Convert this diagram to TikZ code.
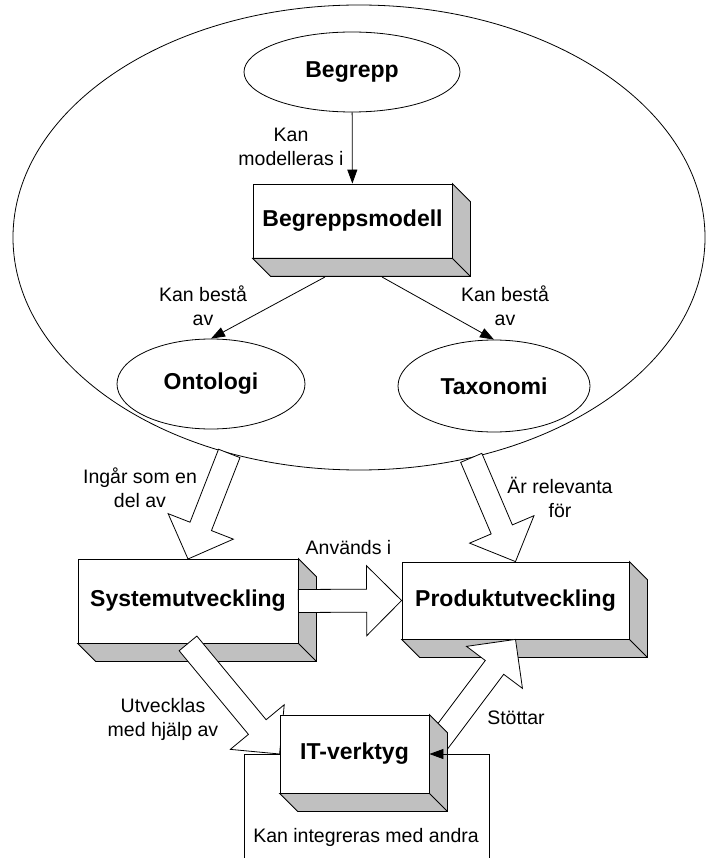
\documentclass[tikz,border=0pt]{standalone}
\usepackage{fontspec}
\setmainfont{Liberation Sans}
\usetikzlibrary{calc,arrows.meta,shapes.geometric}
\definecolor{shadegray}{HTML}{C0C0C0}
\pgfdeclarelayer{front}
\pgfsetlayers{main,front}

\tikzset{
  line/.style={line width=0.8pt},
  oval/.style={ellipse, draw, line width=0.8pt, fill=white, inner sep=0pt,
    font=\fontsize{23}{27}\selectfont\bfseries},
  slab/.style={rectangle, draw, line width=0.8pt, fill=white, inner sep=0pt,
    font=\fontsize{23}{27}\selectfont\bfseries},
  lbl/.style={align=center, inner sep=0pt, font=\fontsize{19.5}{24}\selectfont},
  flow/.style={line width=0.8pt, -{Triangle[length=14pt,width=10pt]}},
  hollow/.style={draw, line width=0.8pt, fill=white, line join=miter},
}

% grey depth faces (right side and bottom) of a raised box
\newcommand{\slabdepth}[1]{%
  \filldraw[line width=0.8pt, fill=shadegray, line join=miter]
    (#1.north east) -- ++(18,18) -- ($(#1.south east)+(18,18)$)
    -- ($(#1.south west)+(18,18)$) -- (#1.south west) -- (#1.south east) -- cycle;
  \draw[line] (#1.south east) -- ++(18,18);}

% outlined block arrow from #1 to the tip #2
\newcommand{\hollowarrow}[2]{%
  \coordinate (ha-h) at ($(#2)!35pt!(#1)$);
  \filldraw[hollow] ($(#1)!11.5pt!90:(#2)$) -- ($(ha-h)!11.5pt!90:(#2)$)
    -- ($(ha-h)!35pt!90:(#2)$) -- (#2) -- ($(ha-h)!35pt!-90:(#2)$)
    -- ($(ha-h)!11.5pt!-90:(#2)$) -- ($(#1)!11.5pt!-90:(#2)$) -- cycle;}

\begin{document}
\begin{tikzpicture}[x=1pt,y=-1pt]
\useasboundingbox (0,0) rectangle (707,858);

% concept area
\node[ellipse, draw, line width=0.8pt, inner sep=0pt,
      minimum width=692pt, minimum height=465pt] (domain) at (359,237.5) {};

\node[oval, minimum width=216pt, minimum height=80pt] (begrepp) at (352,72) {Begrepp};
\node[slab, minimum width=199pt, minimum height=74pt] (bmodell) at (352.5,221) {Begreppsmodell};
\slabdepth{bmodell}
\node[oval, minimum width=188pt, minimum height=90pt] (onto) at (211,384) {Ontologi};
\node[oval, minimum width=192pt, minimum height=92pt] (taxo) at (494,386) {Taxonomi};

\draw[flow] (begrepp) -- (bmodell);
\node[lbl] (l-mod) at (291,147) {Kan\\modelleras i};

\coordinate (bm-l) at (325,277);
\coordinate (bm-r) at (382,277);
\draw[flow] (bm-l) -- (onto.north);
\draw[flow] (bm-r) -- (taxo.north);
\node[lbl] (l-best1) at (203,305.5) {Kan bestå\\av};
\node[lbl] (l-best2) at (505,305.5) {Kan bestå\\av};

% development boxes
\node[slab, minimum width=220pt, minimum height=84pt] (sys) at (188,601) {Systemutveckling};
\slabdepth{sys}
\node[slab, minimum width=227pt, minimum height=77pt] (prod) at (515.5,600.5) {Produktutveckling};
\slabdepth{prod}

\begin{pgfonlayer}{front}
  \node[slab, minimum width=149pt, minimum height=78pt] (it) at (354.5,754) {IT-verktyg};
  \slabdepth{it}
\end{pgfonlayer}

% block arrows
\hollowarrow{sys.east}{prod.west}
\node[lbl] (l-anv) at (348.5,548) {Används i};

\hollowarrow{it.east}{prod.south}
\node[lbl] (l-stod) at (516,718) {Stöttar};

\hollowarrow{sys.south}{it.west}
\node[lbl] (l-utv) at (163,719.5) {Utvecklas\\med hjälp av};

\coordinate (t-sys) at (188,559);
\hollowarrow{domain.239.5}{t-sys}
\node[lbl] (l-ing) at (140,487.5) {Ingår som en\\del av};

\hollowarrow{domain.297.7}{prod.north}
\node[lbl] (l-rel) at (560,497) {Är relevanta\\för};

% integration bracket
\coordinate (br-l) at (244,858);
\coordinate (br-r) at (489,858);
\begin{pgfonlayer}{front}
  \draw[line] (br-l) |- (it.west);
  \draw[flow] (br-r) |- (it.east);
\end{pgfonlayer}
\node[lbl] (l-int) at (366,837) {Kan integreras med andra};
\end{tikzpicture}
\end{document}
